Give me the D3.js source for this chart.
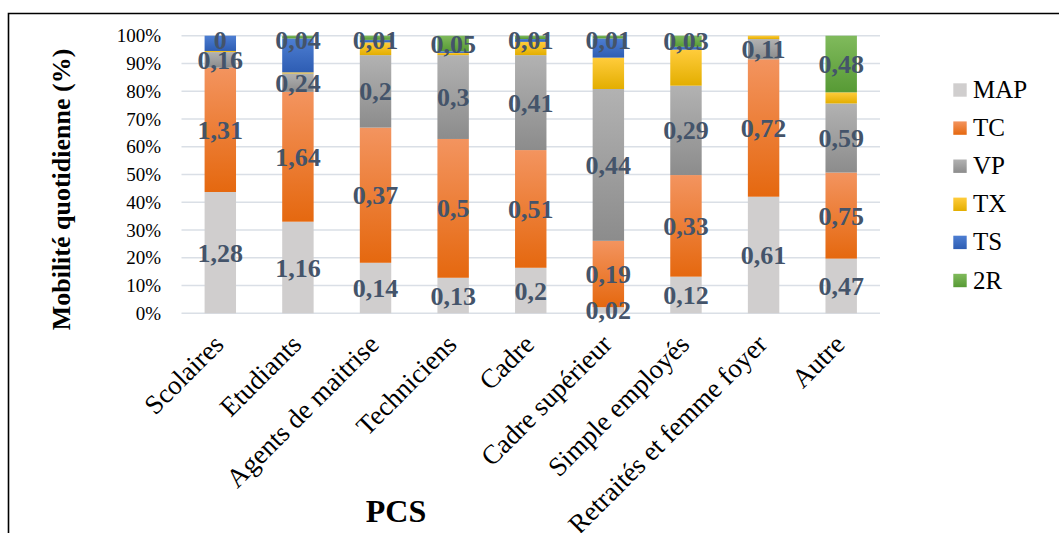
<!DOCTYPE html>
<html><head><meta charset="utf-8">
<script src="https://cdn.jsdelivr.net/npm/d3@7"></script>
<style>body{margin:0;background:#fff} svg{display:block}</style>
</head><body>
<svg id="c" width="1059" height="533"></svg>
<script>
// ---------- data ----------
const categories = ["Scolaires","Etudiants","Agents de maitrise","Techniciens","Cadre","Cadre supérieur","Simple employés","Retraités et femme foyer","Autre"];
const seriesNames = ["MAP","TC","VP","TX","TS","2R"];
// share of each mode (%)
const MAP = [43.7, 33.0, 18.2, 12.8, 16.4,  2.2, 13.2, 42.0, 19.7];
const TC  = [44.8, 46.8, 48.7, 50.0, 42.4, 23.9, 36.6, 49.5, 31.0];
const VP  = [ 5.6,  6.6, 26.1, 30.2, 34.2, 54.7, 32.2,  7.3, 24.9];
const TX  = [ 0.4,  0.4,  4.6,  0.8,  4.8, 11.3, 13.0,  1.2,  4.0];
const TS  = [ 5.5, 12.2,  0.9,  0.6,  1.0,  6.9,  1.0,  0.0,  0.0];
const R2  = [ 0.0,  1.0,  1.5,  5.6,  1.2,  1.0,  4.0,  0.0, 20.4];
// data labels shown on the segments (null = no label)
const MAP_labels = ["1,28","1,16","0,14","0,13","0,2","0,02","0,12","0,61","0,47"];
const TC_labels  = ["1,31","1,64","0,37","0,5","0,51","0,19","0,33","0,72","0,75"];
const VP_labels  = ["0,16","0,24","0,2","0,3","0,41","0,44","0,29","0,11","0,59"];
const TX_labels  = [null,null,null,null,null,null,null,null,null];
const TS_labels  = [null,null,null,null,null,null,null,null,null];
const R2_labels  = ["0","0,04","0,01","0,05","0,01","0,01","0,03",null,"0,48"];
const yTicks = [0,10,20,30,40,50,60,70,80,90,100];
const yTitle = "Mobilité quotidienne (%)";
const xTitle = "PCS";

// ---------- styling ----------
const serif = "'Times New Roman','Liberation Serif',serif";
const gradients = {
  MAP: ["#D0CECE","#D0CECE"],
  TC:  ["#F3945F","#E5680F"],
  VP:  ["#B2B2B2","#8C8C8C"],
  TX:  ["#FFCC3C","#E3AE00"],
  TS:  ["#4D7ED2","#2E5DB3"],
  "2R":["#80BA5C","#579A35"]
};

const seriesValues = {MAP, TC, VP, TX, TS, "2R": R2};
const seriesLabels = {MAP: MAP_labels, TC: TC_labels, VP: VP_labels, TX: TX_labels, TS: TS_labels, "2R": R2_labels};

const rows = categories.map((c,i) => {
  const r = {cat: c};
  seriesNames.forEach(s => r[s] = seriesValues[s][i]);
  return r;
});

const svg = d3.select("#c");
const defs = svg.append("defs");
seriesNames.forEach((s,k) => {
  const g = defs.append("linearGradient").attr("id","g"+k)
    .attr("x1",0).attr("y1",0).attr("x2",0).attr("y2",1);
  g.append("stop").attr("offset","0%").attr("stop-color",gradients[s][0]);
  g.append("stop").attr("offset","100%").attr("stop-color",gradients[s][1]);
});

// frame
svg.append("path").attr("d","M8.5,533 L8.5,13.5 L1059,13.5")
  .attr("fill","none").attr("stroke","#000").attr("stroke-width",1.6);

const x = d3.scaleBand().domain(categories).range([181.5, 880])
  .paddingInner(0.595).paddingOuter(0.2975);
const y = d3.scaleLinear().domain([0,100]).range([313.3, 35.7]);

// gridlines
svg.append("g").selectAll("line").data(yTicks).join("line")
  .attr("x1",181.5).attr("x2",880)
  .attr("y1",d=>y(d)).attr("y2",d=>y(d))
  .attr("stroke","#DADFE6").attr("stroke-width",1.5);

// y axis tick labels
const yAxis = d3.axisLeft(y).tickValues(yTicks).tickFormat(d=>d+"%").tickSize(0).tickPadding(0);
const ya = svg.append("g").attr("transform","translate(161,0)").call(yAxis);
ya.select(".domain").remove();
ya.selectAll("text").attr("font-family",serif).attr("font-size",19).attr("fill","#000");

// stacked bars
const stack = d3.stack().keys(seriesNames)(rows);
const bars = svg.append("g");
stack.forEach((layer,k) => {
  bars.append("g").attr("fill","url(#g"+k+")")
    .selectAll("rect").data(layer).join("rect")
    .attr("x", d=>x(d.data.cat))
    .attr("width", x.bandwidth())
    .attr("y", d=>y(d[1]))
    .attr("height", d=>Math.max(0, y(d[0]) - y(d[1])));
});

// data labels
const lblG = svg.append("g");
stack.forEach((layer,k) => {
  const s = seriesNames[k];
  layer.forEach((d,i) => {
    const t = seriesLabels[s][i];
    if (t == null) return;
    let cy = y((d[0]+d[1])/2);
    cy = Math.max(cy, y(100) + 4);
    lblG.append("text")
      .attr("x", x(d.data.cat) + x.bandwidth()/2)
      .attr("y", cy).attr("dy","0.35em")
      .attr("text-anchor","middle")
      .attr("font-family",serif).attr("font-weight","bold")
      .attr("font-size",26).attr("fill","#44546A")
      .text(t);
  });
});

// x axis labels
const xa = svg.append("g");
categories.forEach(c => {
  xa.append("text")
    .attr("transform",`translate(${x(c)+x.bandwidth()/2+5},346) rotate(-45)`)
    .attr("text-anchor","end")
    .attr("font-family",serif).attr("font-size",27).attr("fill","#000")
    .text(c);
});

// axis titles
svg.append("text").attr("transform","translate(70,189.5) rotate(-90)")
  .attr("text-anchor","middle").attr("font-family",serif).attr("font-weight","bold")
  .attr("font-size",26).attr("fill","#000").text(yTitle);
svg.append("text").attr("x",396).attr("y",521.5)
  .attr("text-anchor","middle").attr("font-family",serif).attr("font-weight","bold")
  .attr("font-size",32).attr("fill","#000").text(xTitle);

// legend
const leg = svg.append("g");
seriesNames.forEach((s,k) => {
  const cy = 90 + k*38.1;
  leg.append("rect").attr("x",953.3).attr("y",cy-6.7).attr("width",13.4).attr("height",13.4)
    .attr("fill","url(#g"+k+")");
  leg.append("text").attr("x",973).attr("y",cy+8)
    .attr("font-family",serif).attr("font-size",25).attr("fill","#000").text(s);
});
</script>
</body></html>
